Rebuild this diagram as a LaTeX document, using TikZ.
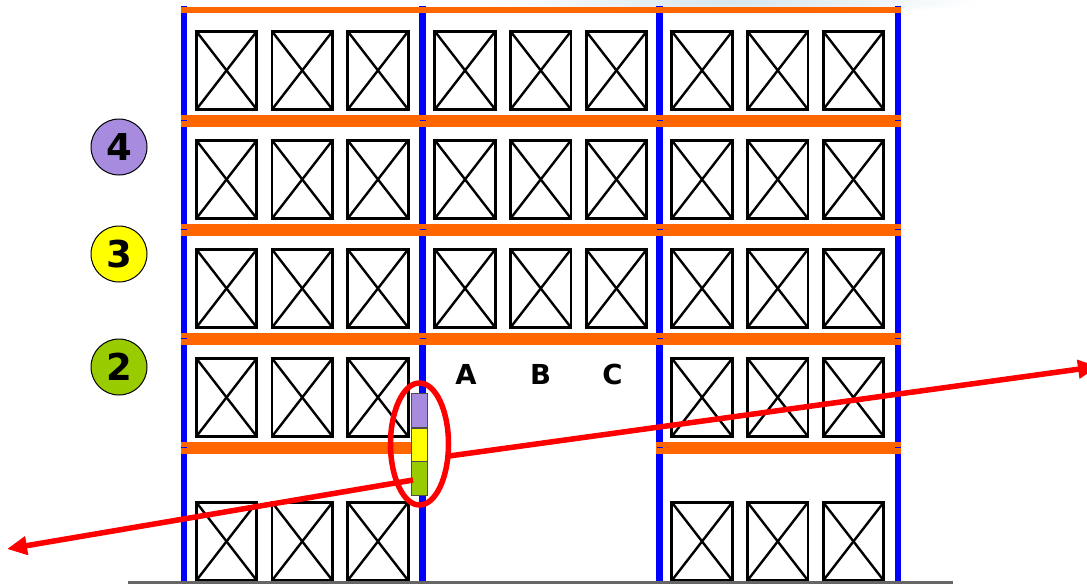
\documentclass[tikz,border=0pt]{standalone}
\usepackage{fontspec}
\setsansfont{DejaVu Sans}
\usetikzlibrary{arrows.meta,shapes.geometric}
\definecolor{beamorange}{HTML}{FF6600}
\definecolor{rackblue}{HTML}{0000FF}
\definecolor{lvlpurple}{HTML}{A78BDF}
\definecolor{lvlyellow}{HTML}{FFFF00}
\definecolor{lvlgreen}{HTML}{99CC00}
\definecolor{pathred}{HTML}{FF0000}
\definecolor{groundgray}{HTML}{666666}
\definecolor{glowblue}{HTML}{D4E6EE}
\tikzset{
  beam/.style={fill=beamorange, draw=none},
  upright/.style={fill=rackblue, draw=none},
  palletbox/.style={draw=black, line width=2.7pt, fill=white},
  palletcross/.style={draw=black, line width=2.4pt},
  levelbadge/.style={circle, draw=black, line width=1pt, minimum size=56pt, inner sep=0pt, font=\sffamily\bfseries\fontsize{37}{37}\selectfont},
  bayletter/.style={inner sep=0pt, font=\sffamily\bfseries\fontsize{27.5}{27.5}\selectfont},
  stackpart/.style={draw=black!70, line width=0.8pt, minimum width=16pt, minimum height=34pt, inner sep=0pt},
  redpath/.style={draw=pathred, line width=5.5pt, -{Triangle[length=20pt,width=18pt]}},
}
\begin{document}
\begin{tikzpicture}[x=1pt,y=-1pt]
\useasboundingbox (0,0) rectangle (1087,584);
% faint glow at the top
\shade[inner color=glowblue, outer color=white] (730,2) ellipse [x radius=250pt, y radius=13pt];
% uprights
\foreach \ux in {184,422.5,659.5,898} {
  \fill[upright] (\ux-3.3,6) rectangle (\ux+3.3,581);
}
% top beam
\fill[beam] (181,7) rectangle (901,13);
% beams
\foreach \by in {121,230,339} {
  \fill[beam] (181,\by-6) rectangle (901,\by+6);
}
\fill[beam] (181,442) rectangle (425,454);
\fill[beam] (656,442) rectangle (901,454);
% small blue marks on beams
\foreach \by in {121,230,339,448} {
  \foreach \ux in {184,422.5,659.5,898} {
    \draw[rackblue, line width=0.8pt] (\ux-3,\by-0.5) -- (\ux+3,\by-0.5);
  }
}
% pallet boxes
\foreach \bx/\rows in {184/{30,139,248,357,501},422.5/{30,139,248},659.5/{30,139,248,357,501}} {
  \foreach \ry in \rows {
    \foreach \k in {0,1,2} {
      \pgfmathsetmacro{\xl}{\bx+12.3+75.7*\k}
      \draw[palletbox] (\xl,\ry+1.3) rectangle (\xl+60.5,\ry+79.5);
      \draw[palletcross] (\xl,\ry+1.3) -- (\xl+60.5,\ry+79.5);
      \draw[palletcross] (\xl+60.5,\ry+1.3) -- (\xl,\ry+79.5);
    }
  }
}
% ground
\draw[groundgray, line width=3pt] (128,582.5) -- (953,582.5);
% level badges
\node[levelbadge, fill=lvlpurple] (b4) at (119,147) {4};
\node[levelbadge, fill=lvlyellow] (b3) at (119,254) {3};
\node[levelbadge, fill=lvlgreen] (b2) at (119,367) {2};
% bay letters
\node[bayletter] (la) at (466,374) {A};
\node[bayletter] (lb) at (540.5,374) {B};
\node[bayletter] (lc) at (612.5,374) {C};
% stack
\node[stackpart, fill=lvlpurple] (s4) at (419,410.5) {};
\node[stackpart, fill=lvlyellow] (s3) at (419,445) {};
\node[stackpart, fill=lvlgreen] (s2) at (419,478.5) {};
% selection ellipse
\node[ellipse, draw=pathred, line width=5.5pt, minimum width=58pt, minimum height=122pt, inner sep=0pt] (sel) at (419.5,444) {};
% paths
\coordinate (lstart) at (413,480);
\coordinate (lend) at (7,549);
\coordinate (rstart) at (449,456);
\coordinate (rend) at (1098,366.5);
\draw[redpath] (lstart) -- (lend);
\draw[redpath] (rstart) -- (rend);
\end{tikzpicture}
\end{document}
